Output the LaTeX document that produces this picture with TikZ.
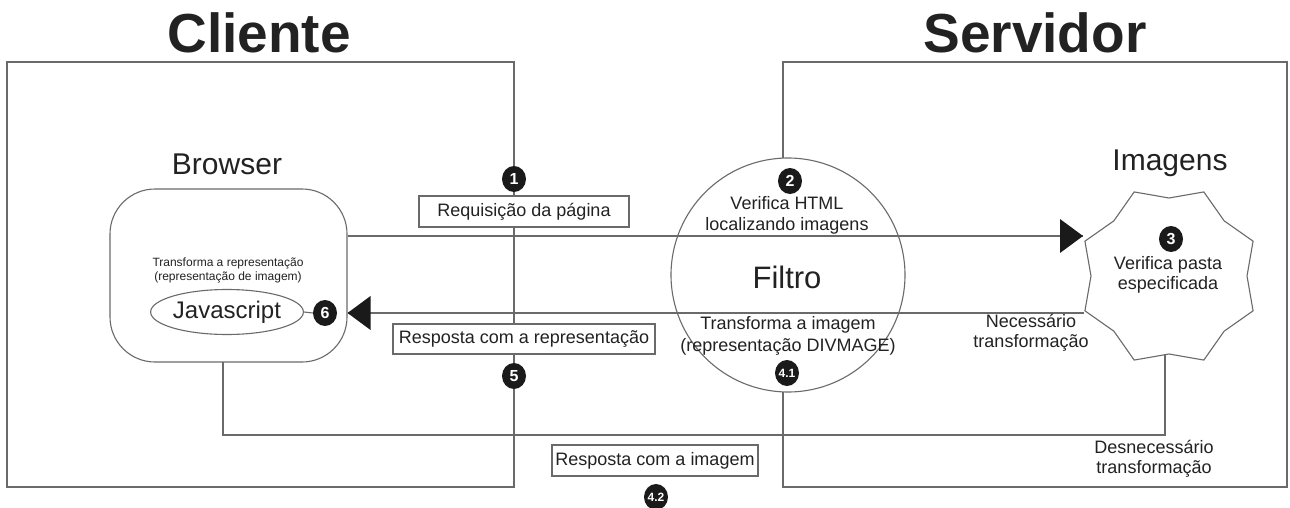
\documentclass[tikz,border=0pt]{standalone}
\usepackage{fontspec}
\setmainfont{Liberation Sans}
\usetikzlibrary{arrows.meta,shapes.geometric}
\definecolor{ln}{HTML}{6A6A6A}
\definecolor{tx}{HTML}{222222}
\definecolor{mk}{HTML}{1A1A1A}
\begin{document}
\begin{tikzpicture}[x=1pt,y=-1pt,
  every node/.style={text=tx},
  conn/.style={draw=ln,line width=1.1pt},
  title/.style={font=\bfseries\fontsize{55}{60}\selectfont,anchor=base},
  head/.style={font=\fontsize{30}{34}\selectfont,anchor=base},
  lbl/.style={font=\fontsize{18}{21}\selectfont,align=center},
  lblbox/.style={draw=ln,line width=1.1pt,fill=white,font=\fontsize{18}{21}\selectfont,inner sep=0pt,minimum height=31pt},
  marker/.style={ellipse,fill=mk,text=white,inner sep=0pt,minimum width=24pt,minimum height=26pt,font=\bfseries\fontsize{16}{16}\selectfont},
  smarker/.style={marker,font=\bfseries\fontsize{12}{12}\selectfont}
]
\useasboundingbox (0,0) rectangle (1290,508);
\fill[white] (0,0) rectangle (1290,508);

% titles
\node[title] (tcli) at (259,53) {Cliente};
\node[title] (tsrv) at (1035,53) {Servidor};

% client box
\node[conn,rectangle,inner sep=0pt,outer sep=0pt,minimum width=507pt,minimum height=425pt,anchor=north west] (cbox) at (7,62) {};

% server box (left edge interrupted by the filter circle)
\node[conn,circle,minimum size=234pt,inner sep=0pt] (filtro) at (788,275) {};
\coordinate (sT) at (783,158.1);
\coordinate (sB) at (783,391.9);
\draw[conn] (sT) -- (783,62) -- (1287,62) -- (1287,487) -- (783,487) -- (sB);

% browser
\node[head] (tbrw) at (227,175) {Browser};
\node[conn,rectangle,rounded corners=45pt,minimum width=237pt,minimum height=173pt,inner sep=0pt] (browser) at (228.5,275.5) {};
\node[font=\fontsize{12}{14}\selectfont,align=center] (trep) at (228,270) {Transforma a representação\\(representação de imagem)};
\node[conn,ellipse,minimum width=150pt,minimum height=45pt,inner sep=0pt,font=\fontsize{24}{26}\selectfont] (js) at (227,312) {Javascript};

% imagens shape
\node[head] (timg) at (1170,170) {Imagens};
\coordinate (imgc) at (1169,276);
\draw[conn,fill=white,shift={(imgc)}] (0:78) -- (22.5:91) -- (45:78) -- (67.5:91) -- (90:78) -- (112.5:91) -- (135:78) -- (157.5:91) -- (180:78) -- (202.5:91) -- (225:78) -- (247.5:91) -- (270:78) -- (292.5:91) -- (315:78) -- (337.5:91) -- cycle;
\coordinate (imgIn) at (1083,236);
\coordinate (imgOut) at (1084,313);
\coordinate (imgBot) at (1165,354);
\coordinate (brwBot) at (223,362);

% connectors
\draw[conn] (browser.east |- imgIn) -- (imgIn);
\fill[mk] (imgIn) -- ++(-23,-17) -- ++(0,34) -- cycle;
\draw[conn] (imgOut) -- (browser.east |- imgOut);
\fill[mk] (browser.east |- imgOut) -- ++(23,-17) -- ++(0,34) -- cycle;
\draw[conn] (brwBot) -- (brwBot |- 0,435) -| (imgBot);

% label boxes
\node[lblbox,minimum width=210pt] (req) at (524,211.5) {Requisição da página};
\node[lblbox,minimum width=262pt,minimum height=30pt] (resp) at (524,339) {Resposta com a representação};
\node[lblbox,minimum width=206pt] (respi) at (655,460.5) {Resposta com a imagem};

% texts
\node[lbl] (vhtml) at (787,215) {Verifica HTML\\localizando imagens};
\node[font=\fontsize{31}{34}\selectfont] (tfil) at (787,277) {Filtro};
\node[lbl,font=\fontsize{18}{22}\selectfont] (timgt) at (788,336) {Transforma a imagem\\(representação DIVMAGE)};
\node[lbl,font=\fontsize{18}{20}\selectfont] (vpasta) at (1168,275) {Verifica pasta\\especificada};
\node[lbl,font=\fontsize{18}{20}\selectfont] (nec) at (1031,333) {Necessário\\transformação};
\node[lbl,font=\fontsize{18}{20}\selectfont] (desn) at (1154,459) {Desnecessário\\transformação};

% markers
\node[marker] (m1) at (514,179) {1};
\node[marker] (m2) at (790,181) {2};
\node[marker] (m3) at (1171,239) {3};
\node[smarker] (m41) at (787,373) {4.1};
\node[smarker] (m42) at (656,497) {4.2};
\node[marker] (m5) at (514,376) {5};
\node[marker] (m6) at (325,313) {6};
\draw[conn] (js.east) -- (m6.west);
\end{tikzpicture}
\end{document}
